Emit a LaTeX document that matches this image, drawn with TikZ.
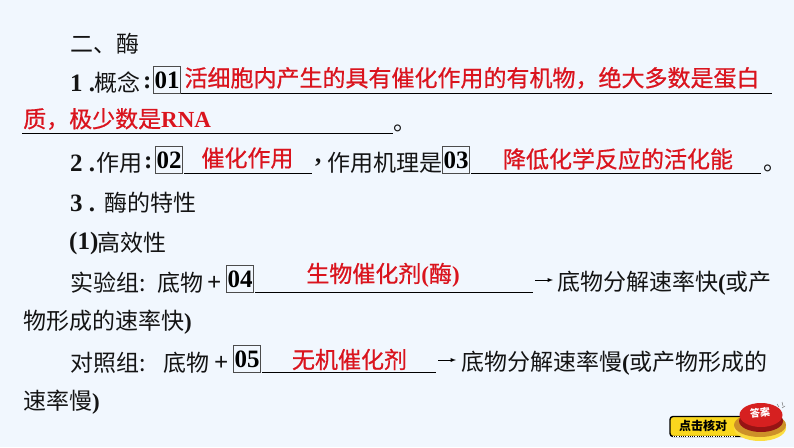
\documentclass[tikz,border=0pt]{standalone}
\usepackage{fontspec}
\setmainfont{Noto Sans CJK SC}
\newfontfamily\latb{Liberation Serif}[BoldFont={Liberation Serif Bold}]
\newfontfamily\redcjk{Noto Sans CJK SC}[FakeBold=0.7]
\usetikzlibrary{positioning,arrows,shapes}
\definecolor{pagebg}{RGB}{241,247,254}
\definecolor{answer}{RGB}{218,20,30}
\definecolor{textblack}{RGB}{20,20,20}
\definecolor{btnyellow}{RGB}{250,215,30}
\definecolor{btnred}{RGB}{214,32,32}
\definecolor{btndark}{RGB}{150,20,20}
\definecolor{btngold}{RGB}{205,145,40}
\begin{document}
\begin{tikzpicture}[x=1pt,y=-1pt]
	\tikzset{
		txt/.style={anchor=west,inner sep=0pt,yshift=-1pt,text=textblack,font=\fontsize{23}{24}\selectfont},
		num/.style={txt,font=\fontsize{25}{26}\latb\bfseries},
		ans/.style={anchor=center,inner sep=0pt,text=answer,font=\fontsize{23}{24}\redcjk},
		tag/.style={draw=black!70,line width=0.7pt,inner sep=0pt,minimum width=27.5pt,minimum height=27.5pt,text=black,font=\fontsize{25}{26}\latb\bfseries},
		blank/.style={line width=1pt,black},
		flow/.style={-latex,line width=0.9pt,black}
	}
	\fill[pagebg] (0,0) rectangle (794,447);
	\useasboundingbox (0,0) rectangle (794,447);
	% heading
	\node[txt] (head) at (70,43) {二、酶};
	% concept
	\node[num] (n1) at (70,82) {1 .};
	\node[txt] (concept) at (94,82) {概念};
	\node[num] (c1) at (143,82) {:};
	\node[tag] (t01) at (167,80) {01};
	\node[ans] (a01) at (472,78) {活细胞内产生的具有催化作用的有机物，绝大多数是蛋白};
	\node[ans,anchor=west] (a01b) at (23,119) {质，极少数是{\latb\bfseries RNA}};
	\node[txt] (end1) at (393,127) {。};
	\coordinate (u1a) at (181,93.5);
	\coordinate (u1b) at (772,93.5);
	\coordinate (u2a) at (22,133);
	\coordinate (u2b) at (393,133);
	% function
	\node[num] (n2) at (70,162) {2 .};
	\node[txt] (func) at (96,162) {作用};
	\node[num] (c2) at (144,162) {:};
	\node[tag] (t02) at (169,160) {02};
	\node[ans] (a02) at (247.5,158) {催化作用};
	\node[num] (c3) at (315,162) {,};
	\node[txt] (mech) at (327,162) {作用机理是};
	\node[tag] (t03) at (456,160) {03};
	\node[ans] (a03) at (618,159) {降低化学反应的活化能};
	\node[txt] (end2) at (763,167) {。};
	\coordinate (u3a) at (184,173.5);
	\coordinate (u3b) at (312,173.5);
	\coordinate (u4a) at (471,173.5);
	\coordinate (u4b) at (761,173.5);
	% properties
	\node[num] (n3) at (70,202) {3 .};
	\node[txt] (prop) at (104,202) {酶的特性};
	\node[num] (p1) at (69,242) {(1)};
	\node[txt] (high) at (97,242) {高效性};
	% test group
	\node[txt] (test) at (70,282) {实验组:};
	\node[txt] (sub1) at (157,282) {底物};
	\node[num] (plus1) at (207,282) {+};
	\node[tag] (t04) at (240,279) {04};
	\node[ans] (a04) at (383,275) {生物催化剂{\latb\bfseries (}酶{\latb\bfseries )}};
	\coordinate (u5a) at (255,292);
	\coordinate (u5b) at (533,292);
	\coordinate (f1a) at (535,280);
	\coordinate (f1b) at (553,280);
	\node[txt] (res1) at (557,282) {底物分解速率快{\latb\bfseries (}或产};
	\node[txt] (res1b) at (23,321) {物形成的速率快{\latb\bfseries )}};
	% control group
	\node[txt] (ctrl) at (70,362) {对照组:};
	\node[txt] (sub2) at (163,362) {底物};
	\node[num] (plus2) at (214,362) {+};
	\node[tag] (t05) at (247,359) {05};
	\node[ans] (a05) at (349.5,359.5) {无机催化剂};
	\coordinate (u6a) at (262,372);
	\coordinate (u6b) at (436,372);
	\coordinate (f2a) at (438,360);
	\coordinate (f2b) at (456,360);
	\node[txt] (res2) at (461,362) {底物分解速率慢{\latb\bfseries (}或产物形成的};
	\node[txt] (res2b) at (23,401) {速率慢{\latb\bfseries )}};
	\path[blank]
		(u1a) edge (u1b)
		(u2a) edge (u2b)
		(u3a) edge (u3b)
		(u4a) edge (u4b)
		(u5a) edge (u5b)
		(u6a) edge (u6b);
	\path[flow]
		(f1a) edge (f1b)
		(f2a) edge (f2b);
	% button
	\draw[black,line width=1.4pt,fill=btnyellow,rounded corners=3pt] (670,416.5) rectangle (745,436.5);
	\draw[white,line width=0.8pt,densely dotted] (673,436.5) -- (735,436.5);
	\node[inner sep=0pt,text=black,font=\fontsize{12}{13}\selectfont\bfseries] (check) at (703,426) {点击核对};
	\fill[btnyellow!85!white] (760,428) ellipse (26pt and 13pt);
	\fill[btngold] (760,425) ellipse (26pt and 12pt);
	\fill[btndark] (761,421) ellipse (22pt and 11pt);
	\fill[btnred] (761,415) ellipse (21.5pt and 12pt);
	\node[inner sep=0pt,rotate=5,text=white,font=\fontsize{10}{11}\selectfont\bfseries] (ans) at (760,413) {答案};
	\draw[black!55,line width=0.5pt] (777,404) -- (779,407) (782,402) -- (783,406) (785,406) -- (782,408);
\end{tikzpicture}
\end{document}
